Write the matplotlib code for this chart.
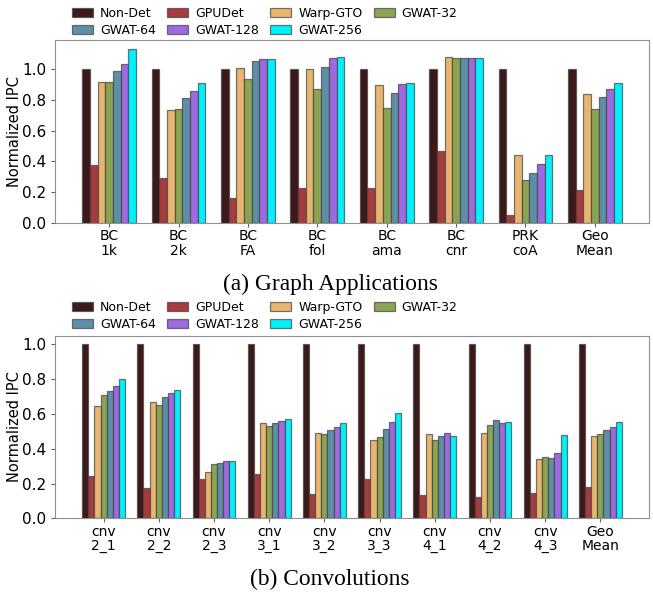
import matplotlib
matplotlib.use("Agg")
import matplotlib.pyplot as plt
import numpy as np

series = ['Non-Det', 'GPUDet', 'Warp-GTO', 'GWAT-32', 'GWAT-64', 'GWAT-128', 'GWAT-256']
colors = ['#3c1a1b', '#a73b3e', '#e8b56e', '#8aa453', '#5f8fa8', '#9e6ae0', '#00f0fc']

graph_labels = ['BC\n1k', 'BC\n2k', 'BC\nFA', 'BC\nfol', 'BC\nama', 'BC\ncnr', 'PRK\ncoA', 'Geo\nMean']
non_det_a = [1.0, 1.0, 1.0, 1.0, 1.0, 1.0, 1.0, 1.0]
gpudet_a = [0.38, 0.295, 0.16, 0.228, 0.226, 0.47, 0.054, 0.217]
warp_a = [0.915, 0.735, 1.005, 1.002, 0.90, 1.082, 0.44, 0.84]
gwat32_a = [0.92, 0.74, 0.935, 0.87, 0.746, 1.072, 0.278, 0.742]
gwat64_a = [0.99, 0.81, 1.056, 1.015, 0.846, 1.072, 0.325, 0.822]
gwat128_a = [1.035, 0.86, 1.065, 1.074, 0.905, 1.072, 0.386, 0.872]
gwat256_a = [1.13, 0.91, 1.065, 1.078, 0.913, 1.072, 0.443, 0.911]

conv_labels = ['cnv\n2_1', 'cnv\n2_2', 'cnv\n2_3', 'cnv\n3_1', 'cnv\n3_2', 'cnv\n3_3',
               'cnv\n4_1', 'cnv\n4_2', 'cnv\n4_3', 'Geo\nMean']
non_det_b = [1.0] * 10
gpudet_b = [0.245, 0.174, 0.226, 0.253, 0.142, 0.226, 0.134, 0.123, 0.146, 0.18]
warp_b = [0.646, 0.669, 0.264, 0.546, 0.49, 0.45, 0.485, 0.489, 0.339, 0.471]
gwat32_b = [0.709, 0.653, 0.312, 0.531, 0.485, 0.466, 0.448, 0.534, 0.352, 0.485]
gwat64_b = [0.732, 0.697, 0.318, 0.546, 0.508, 0.511, 0.473, 0.565, 0.347, 0.508]
gwat128_b = [0.76, 0.72, 0.328, 0.561, 0.525, 0.554, 0.489, 0.546, 0.375, 0.525]
gwat256_b = [0.80, 0.739, 0.33, 0.573, 0.548, 0.603, 0.473, 0.554, 0.479, 0.552]

W, H = 653, 592
BAR_W = 0.111
# legend is filled row by row in the reference, matplotlib fills columns
LEG_ORDER = [0, 4, 1, 5, 2, 6, 3]


def draw_panel(ax, labels, data, ylim, margin):
    x = np.arange(len(labels))
    handles = []
    for k, (name, vals, col) in enumerate(zip(series, data, colors)):
        h = ax.bar(x + (k - 3) * BAR_W, vals, BAR_W, color=col, label=name,
                   edgecolor=(0.25, 0.25, 0.25, 0.7), linewidth=0.9)
        handles.append(h)
    ax.set_xticks(x)
    ax.set_xticklabels(labels, fontsize=10, linespacing=1.05)
    ax.set_xlim(-margin, len(labels) - 1 + margin)
    ax.set_ylim(*ylim)
    ax.set_yticks([0.0, 0.2, 0.4, 0.6, 0.8, 1.0])
    ax.set_yticklabels(['0.0', '0.2', '0.4', '0.6', '0.8', '1.0'], fontsize=11)
    ax.set_ylabel('Normalized IPC', fontsize=10.5)
    ax.yaxis.set_label_coords(-0.056, 0.5)
    for s in ax.spines.values():
        s.set_color('#909090')
    ax.tick_params(color='#606060', length=3)
    ax.tick_params(axis='x', pad=1.5)
    return handles


fig = plt.figure(figsize=(W / 100, H / 100), dpi=100)

ax1 = fig.add_axes([55 / W, 1 - 223 / H, 594 / W, 183 / H])
h1 = draw_panel(ax1, graph_labels,
                [non_det_a, gpudet_a, warp_a, gwat32_a, gwat64_a, gwat128_a, gwat256_a],
                (0, 1.19), 0.78)

ax2 = fig.add_axes([55 / W, 1 - 518.3 / H, 594 / W, 182.6 / H])
h2 = draw_panel(ax2, conv_labels,
                [non_det_b, gpudet_b, warp_b, gwat32_b, gwat64_b, gwat128_b, gwat256_b],
                (0, 1.05), 0.88)

for handles, top in [(h1, 7), (h2, 301)]:
    fig.legend([handles[i] for i in LEG_ORDER], [series[i] for i in LEG_ORDER],
               loc='upper left', ncol=4, frameon=False,
               bbox_to_anchor=(72 / W, 1 - top / H), bbox_transform=fig.transFigure,
               borderaxespad=0, borderpad=0, fontsize=9, handlelength=1.68,
               handleheight=0.8, handletextpad=0.56, columnspacing=0.9,
               labelspacing=0.3)

fig.text(330 / W, 1 - 284 / H, '(a) Graph Applications', ha='center', va='center',
         family='Liberation Serif', fontsize=16.8)
fig.text(330 / W, 1 - 579 / H, '(b) Convolutions', ha='center', va='center',
         family='Liberation Serif', fontsize=16.8)

fig.savefig('out.png', dpi=100)
